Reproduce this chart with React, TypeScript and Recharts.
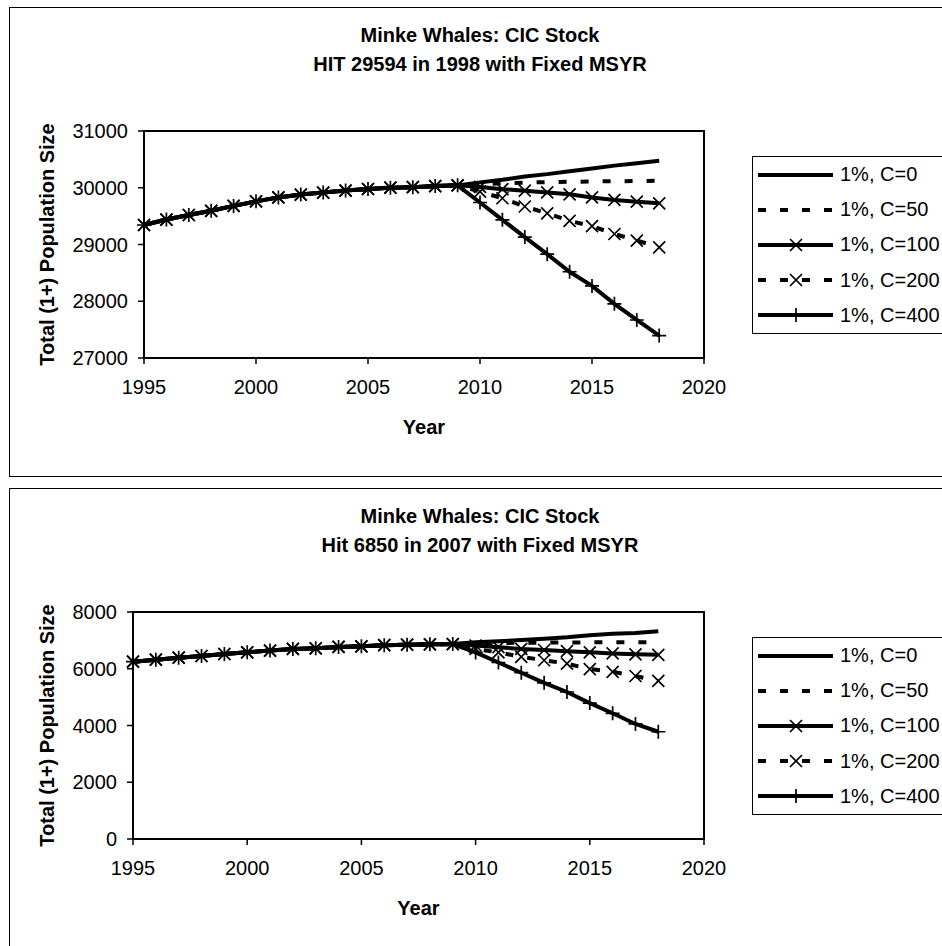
import { LineChart, Line, XAxis, YAxis, Legend, ReferenceArea } from 'recharts'

const FONT = '"Liberation Sans", Arial, sans-serif'

const YEARS = [
  1995, 1996, 1997, 1998, 1999, 2000, 2001, 2002, 2003, 2004, 2005, 2006,
  2007, 2008, 2009, 2010, 2011, 2012, 2013, 2014, 2015, 2016, 2017, 2018,
]
const X_TICKS = [1995, 2000, 2005, 2010, 2015, 2020]

const SERIES_KEYS = ['c0', 'c50', 'c100', 'c200', 'c400']
const SERIES_NAMES = ['1%, C=0', '1%, C=50', '1%, C=100', '1%, C=200', '1%, C=400']

// top panel: HIT 29594 in 1998, history 1995-2009, projections 2010-2018
const HIST_A = [29344, 29440, 29520, 29594, 29680, 29760, 29830, 29880, 29915, 29950, 29978, 30002, 30010, 30030, 30042]
const A_C0 = [30095, 30140, 30200, 30240, 30290, 30340, 30390, 30430, 30475]
const A_C50 = [30060, 30080, 30090, 30100, 30105, 30110, 30115, 30118, 30122]
const A_C100 = [30015, 29975, 29948, 29918, 29885, 29830, 29785, 29755, 29725]
const A_C200 = [29930, 29815, 29670, 29550, 29415, 29325, 29185, 29070, 28950]
const A_C400 = [29740, 29435, 29130, 28830, 28520, 28270, 27955, 27670, 27395]
const A_Y_TICKS = [27000, 28000, 29000, 30000, 31000]

// bottom panel: Hit 6850 in 2007
const HIST_B = [6250, 6320, 6390, 6450, 6520, 6580, 6640, 6700, 6720, 6770, 6790, 6830, 6850, 6860, 6870]
const B_C0 = [6930, 6965, 7010, 7060, 7110, 7180, 7230, 7260, 7320]
const B_C50 = [6890, 6905, 6915, 6920, 6925, 6930, 6932, 6934, 6935]
const B_C100 = [6820, 6760, 6700, 6660, 6620, 6580, 6540, 6510, 6490]
const B_C200 = [6700, 6575, 6420, 6300, 6180, 5990, 5890, 5745, 5570]
const B_C400 = [6575, 6220, 5860, 5505, 5180, 4790, 4430, 4055, 3780]
const B_Y_TICKS = [0, 2000, 4000, 6000, 8000]

function buildRows(hist: number[], proj: number[][]) {
  return YEARS.map((year, i) => {
    const row: Record<string, number> = { year }
    SERIES_KEYS.forEach((k, j) => {
      row[k] = i < hist.length ? hist[i] : proj[j][i - hist.length]
    })
    return row
  })
}

const DATA_A = buildRows(HIST_A, [A_C0, A_C50, A_C100, A_C200, A_C400])
const DATA_B = buildRows(HIST_B, [B_C0, B_C50, B_C100, B_C200, B_C400])

type Marker = 'none' | 'x' | 'plus'
const STYLES: { dash?: string; marker: Marker }[] = [
  { marker: 'none' },
  { dash: '8 14', marker: 'none' },
  { marker: 'x' },
  { dash: '8 14', marker: 'x' },
  { marker: 'plus' },
]

function markerPath(kind: Marker, cx: number, cy: number) {
  if (kind === 'x') {
    const s = 6
    return `M${cx - s},${cy - s}L${cx + s},${cy + s}M${cx - s},${cy + s}L${cx + s},${cy - s}`
  }
  const s = 7
  return `M${cx - s},${cy}L${cx + s},${cy}M${cx},${cy - s}L${cx},${cy + s}`
}

const dotFor = (kind: Marker) => {
  if (kind === 'none') return false
  return (p: any) => {
    const { cx, cy, index } = p
    if (cx == null || cy == null) return <g key={index} />
    return <path key={index} d={markerPath(kind, cx, cy)} stroke="#000" strokeWidth={1.7} fill="none" />
  }
}

function LegendBox() {
  return (
    <div
      style={{
        border: '1.5px solid #000',
        width: 200,
        height: 178,
        boxSizing: 'border-box',
        background: '#fff',
        fontFamily: FONT,
        fontSize: 20,
        color: '#000',
        paddingLeft: 5,
      }}
    >
      {SERIES_NAMES.map((name, i) => (
        <div key={name} style={{ height: 35.2, display: 'flex', alignItems: 'center' }}>
          <svg width={82} height={20} style={{ display: 'block' }}>
            <line x1={0} x2={75} y1={10} y2={10} stroke="#000" strokeWidth={4} strokeDasharray={STYLES[i].dash} />
            {STYLES[i].marker !== 'none' && (
              <path d={markerPath(STYLES[i].marker, 38, 10)} stroke="#000" strokeWidth={1.7} fill="none" />
            )}
          </svg>
          <span style={{ whiteSpace: 'nowrap' }}>{name}</span>
        </div>
      ))}
    </div>
  )
}

interface PanelProps {
  top: number
  title2: string
  data: Record<string, number>[]
  yTicks: number[]
  yWidth: number
}

function Panel({ top, title2, data, yTicks, yWidth }: PanelProps) {
  const yMin = yTicks[0]
  const yMax = yTicks[yTicks.length - 1]
  const tick = { fill: '#000', fontSize: 20, fontFamily: FONT }
  return (
    <div style={{ position: 'absolute', left: 0, top, width: 942, height: 470 }}>
      <div
        style={{
          position: 'absolute',
          left: 9,
          top: 7,
          width: 960,
          height: 470,
          border: '1.5px solid #000',
          boxSizing: 'border-box',
        }}
      />
      <div
        style={{
          position: 'absolute',
          left: 230,
          top: 21,
          width: 500,
          textAlign: 'center',
          fontFamily: FONT,
          fontWeight: 'bold',
          fontSize: 20,
          lineHeight: '28.5px',
          color: '#000',
        }}
      >
        <div>Minke Whales: CIC Stock</div>
        <div>{title2}</div>
      </div>
      <div style={{ position: 'absolute', left: 0, top: 0 }}>
        <LineChart width={942} height={470} data={data} margin={{ top: 131, right: 238, bottom: 32, left: 34 }}>
          <XAxis
            dataKey="year"
            type="number"
            domain={[1995, 2020]}
            ticks={X_TICKS}
            interval={0}
            height={80}
            tick={tick}
            tickSize={6}
            tickMargin={16}
            axisLine={{ stroke: '#000', strokeWidth: 2 }}
            tickLine={{ stroke: '#000', strokeWidth: 1.5 }}
            label={{ value: 'Year', position: 'insideBottom', offset: 4, fill: '#000', fontSize: 20, fontWeight: 'bold', fontFamily: FONT }}
          />
          <YAxis
            type="number"
            domain={[yMin, yMax]}
            ticks={yTicks}
            interval={0}
            width={yWidth}
            tick={tick}
            tickSize={6}
            tickMargin={10}
            axisLine={{ stroke: '#000', strokeWidth: 2 }}
            tickLine={{ stroke: '#000', strokeWidth: 1.5 }}
            label={{
              value: 'Total (1+) Population Size',
              angle: -90,
              position: 'insideLeft',
              offset: 13,
              fill: '#000',
              fontSize: 20,
              fontWeight: 'bold',
              fontFamily: FONT,
              style: { textAnchor: 'middle' },
            }}
          />
          <ReferenceArea x1={1995} x2={2020} y1={yMin} y2={yMax} fill="none" stroke="#000" strokeWidth={2} />
          {SERIES_KEYS.map((k, i) => (
            <Line
              key={k}
              dataKey={k}
              name={SERIES_NAMES[i]}
              type="linear"
              stroke="#000"
              strokeWidth={4}
              strokeDasharray={STYLES[i].dash}
              dot={dotFor(STYLES[i].marker)}
              activeDot={false}
              isAnimationActive={false}
            />
          ))}
          <Legend
            layout="vertical"
            align="center"
            verticalAlign="middle"
            content={() => <LegendBox />}
            wrapperStyle={{ left: 752, top: 156, width: 'auto', height: 'auto' }}
          />
        </LineChart>
      </div>
    </div>
  )
}

export default function App() {
  return (
    <div style={{ position: 'absolute', left: 0, top: 0, width: 942, height: 946, overflow: 'hidden', background: '#fff' }}>
      <Panel top={0} title2="HIT 29594 in 1998 with Fixed MSYR" data={DATA_A} yTicks={A_Y_TICKS} yWidth={110} />
      <Panel top={481} title2="Hit 6850 in 2007 with Fixed MSYR" data={DATA_B} yTicks={B_Y_TICKS} yWidth={99} />
    </div>
  )
}
